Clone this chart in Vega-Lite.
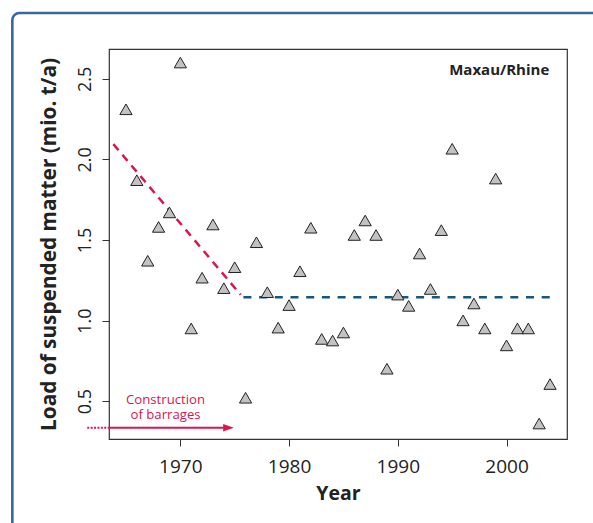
{
  "$schema": "https://vega.github.io/schema/vega-lite/v6.json",
  "width": 458,
  "height": 390,
  "autosize": {"type": "none"},
  "padding": {"left": 109, "top": 49, "right": 26, "bottom": 84},
  "background": "white",
  "config": {
    "view": {"stroke": "#333333", "strokeWidth": 1.2},
    "font": "Open Sans"
  },
  "datasets": {
    "pts": [
      {"year": 1965, "load": 2.30}, {"year": 1966, "load": 1.86}, {"year": 1967, "load": 1.36},
      {"year": 1968, "load": 1.57}, {"year": 1969, "load": 1.66}, {"year": 1970, "load": 2.59},
      {"year": 1971, "load": 0.94}, {"year": 1972, "load": 1.255}, {"year": 1973, "load": 1.585},
      {"year": 1974, "load": 1.19}, {"year": 1975, "load": 1.32}, {"year": 1976, "load": 0.51},
      {"year": 1977, "load": 1.475}, {"year": 1978, "load": 1.165}, {"year": 1979, "load": 0.945},
      {"year": 1980, "load": 1.085}, {"year": 1981, "load": 1.295}, {"year": 1982, "load": 1.565},
      {"year": 1983, "load": 0.875}, {"year": 1984, "load": 0.865}, {"year": 1985, "load": 0.915},
      {"year": 1986, "load": 1.52}, {"year": 1987, "load": 1.61}, {"year": 1988, "load": 1.52},
      {"year": 1989, "load": 0.69}, {"year": 1990, "load": 1.15}, {"year": 1991, "load": 1.08},
      {"year": 1992, "load": 1.405}, {"year": 1993, "load": 1.185}, {"year": 1994, "load": 1.55},
      {"year": 1995, "load": 2.055}, {"year": 1996, "load": 0.99}, {"year": 1997, "load": 1.095},
      {"year": 1998, "load": 0.94}, {"year": 1999, "load": 1.87}, {"year": 2000, "load": 0.835},
      {"year": 2001, "load": 0.94}, {"year": 2002, "load": 0.94}, {"year": 2003, "load": 0.35},
      {"year": 2004, "load": 0.595}
    ],
    "redtrend": [{"year": 1963.84, "load": 2.095}, {"year": 1975.55, "load": 1.16}],
    "bluetrend": [{"year": 1975.8, "load": 1.145}, {"year": 2004.1, "load": 1.145}]
  },
  "layer": [
    {
      "data": {"values": [{}]},
      "mark": {"type": "rect", "clip": false, "fillOpacity": 0, "stroke": "#3b67a0", "strokeWidth": 2.6, "cornerRadius": 7},
      "encoding": {
        "x": {"datum": 1954.55, "type": "quantitative", "scale": {"domain": [1963.44, 2005.56], "nice": false, "zero": false}},
        "x2": {"datum": 2009.5},
        "y": {"datum": -0.35, "type": "quantitative", "scale": {"domain": [0.265, 2.685], "nice": false, "zero": false}},
        "y2": {"datum": 2.908}
      }
    },
    {
      "data": {"name": "redtrend"},
      "mark": {"type": "line", "color": "#d8174f", "strokeWidth": 2.5, "strokeDash": [8, 6], "strokeCap": "butt"},
      "encoding": {
        "x": {"field": "year", "type": "quantitative", "scale": {"domain": [1963.44, 2005.56], "nice": false, "zero": false}},
        "y": {"field": "load", "type": "quantitative", "scale": {"domain": [0.265, 2.685], "nice": false, "zero": false}}
      }
    },
    {
      "data": {"name": "bluetrend"},
      "mark": {"type": "line", "color": "#15577f", "strokeWidth": 2.5, "strokeDash": [8, 7.7], "strokeCap": "butt"},
      "encoding": {
        "x": {"field": "year", "type": "quantitative", "scale": {"domain": [1963.44, 2005.56], "nice": false, "zero": false}},
        "y": {"field": "load", "type": "quantitative", "scale": {"domain": [0.265, 2.685], "nice": false, "zero": false}}
      }
    },
    {
      "data": {"name": "pts"},
      "mark": {"type": "point", "shape": "M0,-1L0.866,0.5L-0.866,0.5Z", "filled": true, "fill": "#c2c2c2", "stroke": "#222222", "strokeWidth": 1, "size": 200, "opacity": 1},
      "encoding": {
        "x": {
          "field": "year", "type": "quantitative",
          "scale": {"domain": [1963.44, 2005.56], "nice": false, "zero": false},
          "axis": {
            "values": [1970, 1980, 1990, 2000], "format": "d", "grid": false, "domain": false,
            "tickSize": 7, "tickColor": "#333333", "tickWidth": 1,
            "labelFontSize": 19, "labelColor": "#222222", "labelPadding": 11, "labelFlush": false, "labelOverlap": false,
            "title": "Year", "titleFontSize": 19.5, "titleFontWeight": "bold", "titleColor": "#222222",
            "titleY": 60, "titleBaseline": "alphabetic"
          }
        },
        "y": {
          "field": "load", "type": "quantitative",
          "scale": {"domain": [0.265, 2.685], "nice": false, "zero": false},
          "axis": {
            "values": [0.5, 1, 1.5, 2, 2.5], "format": ".1f", "grid": false, "domain": false,
            "tickSize": 7, "tickColor": "#333333", "tickWidth": 1,
            "labelFontSize": 18, "labelColor": "#222222", "labelPadding": 12, "labelAngle": -90,
            "labelAlign": "center", "labelBaseline": "alphabetic", "labelFlush": false, "labelOverlap": false,
            "title": "Load of suspended matter (mio. t/a)", "titleFontSize": 20.8, "titleFontWeight": "bold",
            "titleColor": "#222222", "titleAngle": -90, "titleX": -54, "titleBaseline": "alphabetic"
          }
        }
      }
    },
    {
      "data": {"values": [{}]},
      "mark": {"type": "text", "text": "Maxau/Rhine", "font": "Open Sans", "fontWeight": "bold", "fontSize": 15, "color": "#222222", "align": "right", "baseline": "alphabetic"},
      "encoding": {
        "x": {"datum": 2003.93, "type": "quantitative", "scale": {"domain": [1963.44, 2005.56], "nice": false, "zero": false}},
        "y": {"datum": 2.524, "type": "quantitative", "scale": {"domain": [0.265, 2.685], "nice": false, "zero": false}}
      }
    },
    {
      "data": {"values": [{}]},
      "mark": {"type": "text", "text": ["Construction", "of barrages"], "font": "Open Sans", "fontSize": 13.2, "lineHeight": 15, "color": "#d8174f", "align": "center", "baseline": "alphabetic"},
      "encoding": {
        "x": {"datum": 1968.64, "type": "quantitative", "scale": {"domain": [1963.44, 2005.56], "nice": false, "zero": false}},
        "y": {"datum": 0.481, "type": "quantitative", "scale": {"domain": [0.265, 2.685], "nice": false, "zero": false}}
      }
    },
    {
      "data": {"values": [{}]},
      "mark": {"type": "rule", "clip": false, "color": "#d8174f", "strokeWidth": 2, "strokeDash": [2, 1.4], "strokeCap": "butt"},
      "encoding": {
        "x": {"datum": 1961.44, "type": "quantitative", "scale": {"domain": [1963.44, 2005.56], "nice": false, "zero": false}},
        "x2": {"datum": 1963.44},
        "y": {"datum": 0.335, "type": "quantitative", "scale": {"domain": [0.265, 2.685], "nice": false, "zero": false}}
      }
    },
    {
      "data": {"values": [{}]},
      "mark": {"type": "rule", "color": "#d8174f", "strokeWidth": 2, "strokeCap": "butt"},
      "encoding": {
        "x": {"datum": 1963.44, "type": "quantitative", "scale": {"domain": [1963.44, 2005.56], "nice": false, "zero": false}},
        "x2": {"datum": 1974.0},
        "y": {"datum": 0.335, "type": "quantitative", "scale": {"domain": [0.265, 2.685], "nice": false, "zero": false}}
      }
    },
    {
      "data": {"values": [{}]},
      "mark": {"type": "point", "shape": "M-1,-0.72L1,0L-1,0.72Z", "filled": true, "fill": "#d8174f", "strokeWidth": 0, "size": 114, "opacity": 1},
      "encoding": {
        "x": {"datum": 1974.43, "type": "quantitative", "scale": {"domain": [1963.44, 2005.56], "nice": false, "zero": false}},
        "y": {"datum": 0.335, "type": "quantitative", "scale": {"domain": [0.265, 2.685], "nice": false, "zero": false}}
      }
    }
  ]
}
